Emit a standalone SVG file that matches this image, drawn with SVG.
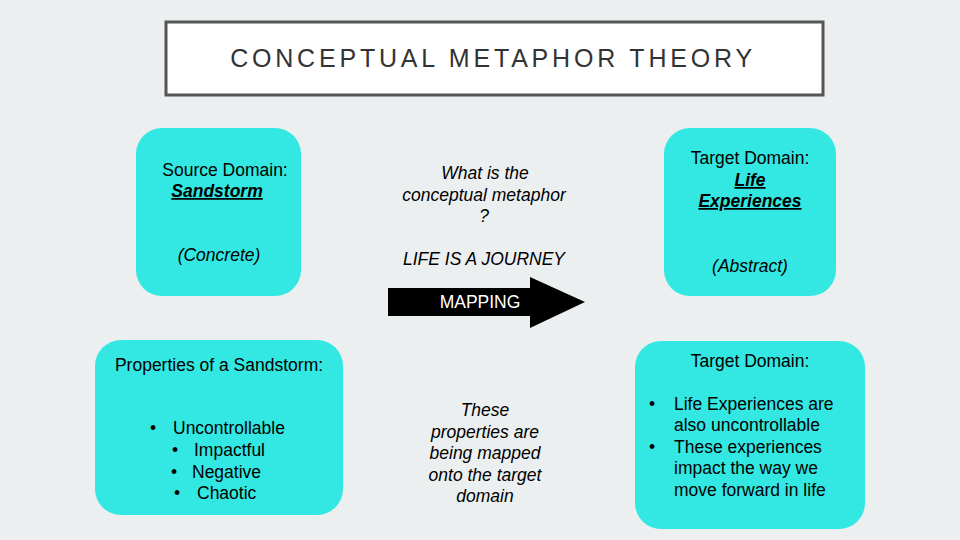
<svg xmlns="http://www.w3.org/2000/svg" width="960" height="540" viewBox="0 0 960 540">
<style>
.b{fill:#33e8e2}
text{font-family:"Liberation Sans",Arial,sans-serif;font-size:17.5px;fill:#000;text-anchor:middle}
.i{font-style:italic}
.u{font-weight:bold;font-style:italic;text-decoration:underline}
.s{text-anchor:start}
</style>
<rect width="960" height="540" fill="#ebeff0"/>
<g id="title">
<rect x="166" y="22" width="657" height="73" fill="#fff" stroke="#555" stroke-width="3"/>
<text x="493" y="67" style="font-size:25px;letter-spacing:3.8px;fill:#333">CONCEPTUAL METAPHOR THEORY</text>
</g>
<g id="source">
<rect class="b" x="136" y="128" width="165" height="168" rx="26"/>
<text x="225" y="176">Source Domain:</text>
<text x="217" y="197" class="u">Sandstorm</text>
<text x="219" y="261" class="i">(Concrete)</text>
</g>
<g id="question">
<text x="485" y="179" class="i">What is the</text>
<text x="484" y="201" class="i">conceptual metaphor</text>
<text x="484" y="222" class="i">?</text>
<text x="484" y="265" class="i">LIFE IS A JOURNEY</text>
</g>
<g id="target">
<rect class="b" x="664" y="128" width="172" height="168" rx="26"/>
<text x="750" y="164">Target Domain:</text>
<text x="750" y="186" class="u">Life</text>
<text x="750" y="207" class="u">Experiences </text>
<text x="750" y="272" class="i">(Abstract)</text>
</g>
<g id="connectors">
<polygon points="388,288 530,288 530,277 585,302 530,328 530,316 388,316" fill="#000"/>
<text x="480" y="308" style="fill:#fff">MAPPING</text>
</g>
<g id="props">
<rect class="b" x="95" y="340" width="248" height="175" rx="26"/>
<text x="219" y="371">Properties of a Sandstorm:</text>
<text x="153" y="434">•</text><text x="173" y="434" class="s">Uncontrollable</text>
<text x="175" y="456">•</text><text x="194" y="456" class="s">Impactful</text>
<text x="174" y="478">•</text><text x="192" y="478" class="s">Negative</text>
<text x="177" y="499">•</text><text x="197" y="499" class="s">Chaotic</text>
</g>
<g id="mapped">
<text x="485" y="416" class="i">These</text>
<text x="485" y="438" class="i">properties are</text>
<text x="485" y="459" class="i">being mapped</text>
<text x="485" y="481" class="i">onto the target</text>
<text x="485" y="502" class="i">domain</text>
</g>
<g id="target2">
<rect class="b" x="635" y="341" width="230" height="188" rx="26"/>
<text x="750" y="367">Target Domain:</text>
<text x="652" y="410">•</text>
<text x="674" y="410" class="s">Life Experiences are</text>
<text x="674" y="431" class="s">also uncontrollable</text>
<text x="652" y="453">•</text>
<text x="674" y="453" class="s">These experiences</text>
<text x="674" y="474" class="s">impact the way we</text>
<text x="674" y="496" class="s">move forward in life</text>
</g>
</svg>
